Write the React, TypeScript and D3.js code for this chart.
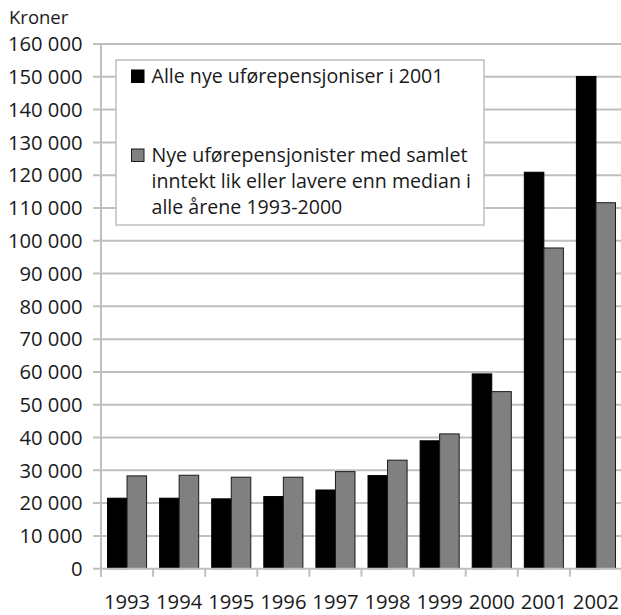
import React from "react";
import * as d3 from "d3";

const years = ["1993", "1994", "1995", "1996", "1997", "1998", "1999", "2000", "2001", "2002"];
const allNew = [21500, 21500, 21300, 22000, 24000, 28400, 39000, 59400, 120900, 150100];
const lowIncome = [28300, 28500, 27900, 27900, 29600, 33100, 41100, 54000, 97800, 111600];
const yTicks = d3.range(0, 160001, 10000);
const seriesNames = ["Alle nye uførepensjoniser i 2001"];
const series2Lines = [
  "Nye uførepensjonister med samlet",
  "inntekt lik eller lavere enn median i",
  "alle årene 1993-2000",
];

const W = 621;
const H = 615;
const FONT = "'Open Sans', sans-serif";

export default function App() {
  const x0 = 101;
  const x1 = 622;
  const yScale = d3.scaleLinear().domain([0, 160000]).range([568.7, 44]);
  const xBand = d3.scaleBand().domain(years).range([x0, x1]).paddingInner(0).paddingOuter(0);
  const bw = xBand.bandwidth();
  const groupW = bw * 0.75;
  const inner = d3.scaleBand().domain(["a", "b"]).range([0, groupW]);
  const fmt = (v: number) => (v === 0 ? "0" : d3.format(",")(v).replace(/,/g, " "));
  const gridColor = "#bfbfbf";
  const txt = "#1a1a1a";

  return (
    <svg width={W} height={H} style={{ position: "absolute", left: 0, top: 0 }} fontFamily={FONT}>
      <rect width={W} height={H} fill="#fff" />
      <text x={9} y={24} fontSize={18.5} fill={txt}>Kroner</text>
      {yTicks.map((t) => (
        <g key={t}>
          <line x1={93} x2={t === 0 ? x0 : W} y1={yScale(t)} y2={yScale(t)} stroke={gridColor} strokeWidth={2} />
          <text x={82.5} y={yScale(t)} dy="0.36em" textAnchor="end" fontSize={20.2} fill={txt}>
            {fmt(t)}
          </text>
        </g>
      ))}
      {years.map((y, i) => {
        const bx = xBand(y)! + (bw - groupW) / 2;
        return (
          <g key={y}>
            <rect x={bx + inner("a")!} y={yScale(allNew[i])} width={inner.bandwidth()} height={yScale(0) - yScale(allNew[i])} fill="#000" stroke="#000" strokeWidth={1} />
            <rect x={bx + inner("b")!} y={yScale(lowIncome[i])} width={inner.bandwidth()} height={yScale(0) - yScale(lowIncome[i])} fill="#808080" stroke="#1a1a1a" strokeWidth={1} />
            <text x={xBand(y)! + bw / 2} y={609} textAnchor="middle" fontSize={20.2} fill={txt}>{y}</text>
          </g>
        );
      })}
      <line x1={x0} x2={W} y1={yScale(0)} y2={yScale(0)} stroke={gridColor} strokeWidth={2} />
      <line x1={x0} x2={x0} y1={yScale(160000)} y2={yScale(0) + 8} stroke={gridColor} strokeWidth={2} />
      {years.map((y) => (
        <line key={"t" + y} x1={xBand(y)!} x2={xBand(y)!} y1={yScale(0)} y2={yScale(0) + 8} stroke={gridColor} strokeWidth={2} />
      ))}
      <rect x={116} y={60} width={368} height={165} fill="#fff" stroke={gridColor} strokeWidth={1.5} />
      <rect x={131.5} y={70} width={12.5} height={12.5} fill="#000" stroke="#000" strokeWidth={1} />
      <text x={151.5} y={83} fontSize={19.6} fill={txt}>{seriesNames[0]}</text>
      <rect x={131.5} y={149} width={12.5} height={12.5} fill="#808080" stroke={txt} strokeWidth={1} />
      {series2Lines.map((l, i) => (
        <text key={l} x={151.5} y={162 + i * 26} fontSize={19.6} fill={txt}>{l}</text>
      ))}
    </svg>
  );
}
